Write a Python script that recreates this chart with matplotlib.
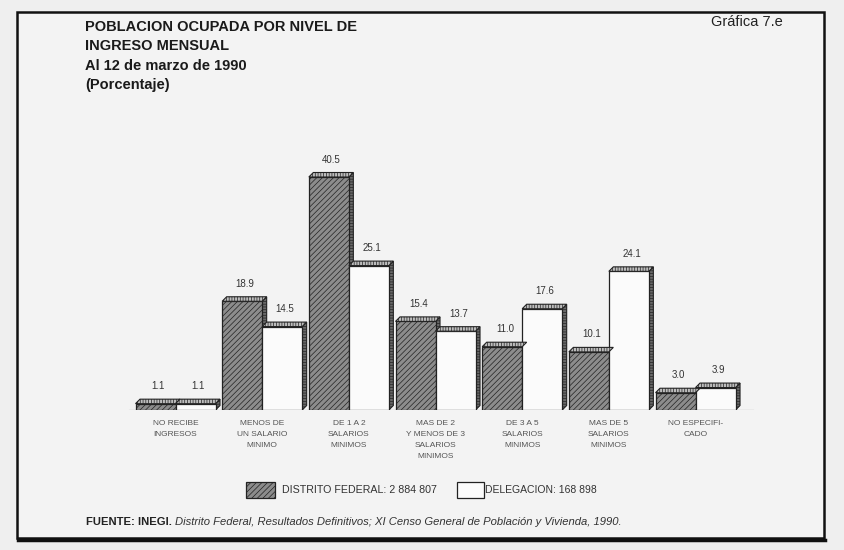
import matplotlib
matplotlib.use("Agg")
import matplotlib.pyplot as plt
from matplotlib.patches import Polygon, Rectangle
import matplotlib.transforms as mtransforms

plt.rcParams['font.family'] = ['Liberation Sans', 'DejaVu Sans']
plt.rcParams['hatch.linewidth'] = 0.5

categories = [
    "NO RECIBE\nINGRESOS",
    "MENOS DE\nUN SALARIO\nMINIMO",
    "DE 1 A 2\nSALARIOS\nMINIMOS",
    "MAS DE 2\nY MENOS DE 3\nSALARIOS\nMINIMOS",
    "DE 3 A 5\nSALARIOS\nMINIMOS",
    "MAS DE 5\nSALARIOS\nMINIMOS",
    "NO ESPECIFI-\nCADO",
]
distrito_federal = [1.1, 18.9, 40.5, 15.4, 11.0, 10.1, 3.0]
delegacion = [1.1, 14.5, 25.1, 13.7, 17.6, 24.1, 3.9]
value_labels_df = ["1.1", "18.9", "40.5", "15.4", "11.0", "10.1", "3.0"]
value_labels_del = ["1.1", "14.5", "25.1", "13.7", "17.6", "24.1", "3.9"]
legend_labels = ["DISTRITO FEDERAL: 2 884 807", "DELEGACION: 168 898"]

W, H = 844, 550
fig = plt.figure(figsize=(W / 100, H / 100), dpi=100)
fig.patch.set_facecolor('#efefef')

# frame
bg = fig.add_axes([0, 0, 1, 1])
bg.set_xlim(0, W)
bg.set_ylim(H, 0)
bg.axis('off')
bg.add_patch(Rectangle((16.5, 12), 807, 526, fc='#f3f3f3', lw=1.8, ec='#111111'))
bg.plot([18, 825], [539.5, 539.5], color='#111111', lw=2.5)

# chart axes: baseline at y=410 px, 40.5 at y=177 px
px_per_unit = (410 - 177) / 40.5
ax_top_px = 150
ymax = (410 - ax_top_px) / px_per_unit
left_px, right_px = 120, 760
c0, step = 175.5, 86.67
xmin = (left_px - c0) / step
xmax = (right_px - c0) / step
ax = fig.add_axes([left_px / W, (H - 410) / H, (right_px - left_px) / W, (410 - ax_top_px) / H])
ax.set_xlim(xmin, xmax)
ax.set_ylim(0, ymax)
ax.axis('off')
ax.patch.set_alpha(0)

bw = 40 / step
x = list(range(len(categories)))
dark_face = '#8c8c8c'
edge = '#222222'

b1 = ax.bar([i - bw / 2 for i in x], distrito_federal, width=bw, color=dark_face,
            edgecolor=edge, hatch='//////', lw=0.9, zorder=3)
b2 = ax.bar([i + bw / 2 for i in x], delegacion, width=bw, color='#fbfbfb',
            edgecolor=edge, lw=0.9, zorder=3)

# 3D depth via offset transform
dx, dy = 4.5 / 100, 4.5 / 100  # inches
off = mtransforms.ScaledTranslation(dx, dy, fig.dpi_scale_trans)
tr_off = ax.transData + off
inv = ax.transData.inverted()
for bars in (b1, b2):
    for r in bars:
        x0, w, h = r.get_x(), r.get_width(), r.get_height()
        p_data = ax.transData.transform([[x0, h], [x0 + w, h]])
        p_off = tr_off.transform([[x0 + w, h], [x0, h]])
        pts = inv.transform(list(p_data) + list(p_off))
        ax.add_patch(Polygon(pts, closed=True, fc='#bdbdbd', ec=edge, lw=0.8,
                             hatch='||||||', zorder=4))
        s_data = ax.transData.transform([[x0 + w, 0], [x0 + w, h]])
        s_off = tr_off.transform([[x0 + w, h], [x0 + w, 0]])
        pts = inv.transform(list(s_data) + list(s_off))
        ax.add_patch(Polygon(pts, closed=True, fc='#6a6a6a', ec=edge, lw=0.8,
                             hatch='------', zorder=2))

# floor line
ax.plot([xmin + 0.1, len(x) - 1 + bw + 0.2], [0, 0], color='#555555', lw=0.8, zorder=1)

# value labels
for i in x:
    ax.annotate(value_labels_df[i], (i - bw / 2, distrito_federal[i]), xytext=(2, 9),
                textcoords='offset points', ha='center', va='bottom', fontsize=7, color='#333333')
    ax.annotate(value_labels_del[i], (i + bw / 2, delegacion[i]), xytext=(2, 9),
                textcoords='offset points', ha='center', va='bottom', fontsize=7, color='#333333')
    ax.annotate(categories[i], (i, 0), xytext=(0, -7.5), textcoords='offset points',
                ha='center', va='top', fontsize=6.0, color='#555555', linespacing=1.75,
                annotation_clip=False)

# titles
title_lines = ["POBLACION OCUPADA POR NIVEL DE", "INGRESO MENSUAL", "Al 12 de marzo de 1990", "(Porcentaje)"]
for k, t in enumerate(title_lines):
    bg.text(85, 27 + k * 19.5, t, fontsize=10.5, fontweight='bold', color='#1a1a1a',
            ha='left', va='center')
bg.text(711, 22, "Gráfica 7.e", fontsize=10.5, color='#222222', ha='left', va='center')

# legend
bg.add_patch(Rectangle((246, 482), 29, 16, fc=dark_face, ec=edge, hatch='//////', lw=0.9))
bg.text(282, 490, legend_labels[0], fontsize=7.7, color='#333333', ha='left', va='center')
bg.add_patch(Rectangle((457, 482), 27, 16, fc='#fbfbfb', ec=edge, lw=0.9))
bg.text(485, 490, legend_labels[1], fontsize=7.5, color='#333333', ha='left', va='center')

# source
t1 = bg.text(86, 522, "FUENTE: INEGI. ", fontsize=8.1, fontweight='bold', color='#222222',
             ha='left', va='center')
fig.canvas.draw()
bb = t1.get_window_extent()
x_end = bb.x1
bg.annotate("Distrito Federal, Resultados Definitivos; XI Censo General de Población y Vivienda, 1990.",
            xy=(x_end, H - 522), xycoords='figure pixels', fontsize=8.1, style='italic',
            color='#333333', ha='left', va='center')

fig.savefig("out.png", dpi=100, facecolor=fig.get_facecolor())
